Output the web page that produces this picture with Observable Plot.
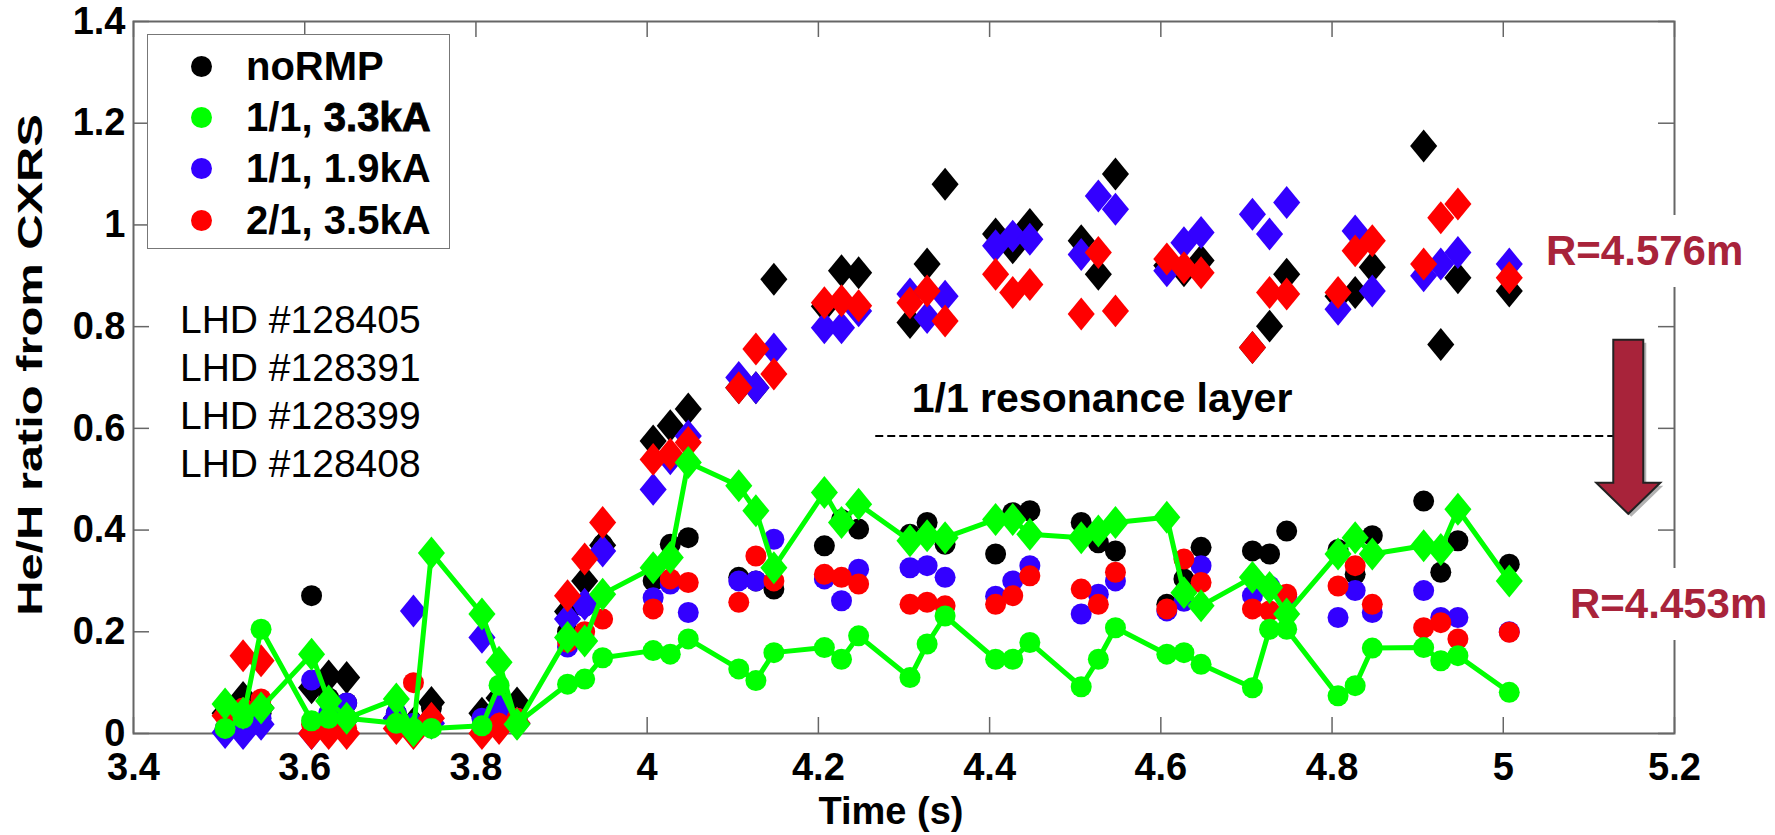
<!DOCTYPE html>
<html>
<head>
<meta charset="utf-8">
<script src="https://cdn.jsdelivr.net/npm/d3@7"></script>
<script src="https://cdn.jsdelivr.net/npm/@observablehq/plot@0.6"></script>
<style>
  html, body { margin: 0; padding: 0; background: #fff; }
  #wrap { position: relative; width: 1775px; height: 835px; font-family: "Liberation Sans", Arial, sans-serif; overflow: hidden; }
  #wrap svg { position: absolute; left: 0; top: 0; }
  .legend { position: absolute; left: 147px; top: 34px; width: 303px; height: 215px; border: 1.5px solid #777; background: #fff; box-sizing: border-box; }
  .legend .mk { position: absolute; left: 43px; width: 21px; height: 21px; border-radius: 50%; }
  .legend .tx { position: absolute; left: 98px; height: 44px; line-height: 44px; font-weight: bold; font-size: 40px; color: #000; white-space: nowrap; }
  .shot { position: absolute; left: 180px; font-size: 39px; line-height: 44px; height: 44px; color: #000; white-space: nowrap; }
  .rlab { position: absolute; background: #fff; color: #a8233a; font-weight: bold; font-size: 42px; line-height: 72px; height: 72px; padding: 0 8px 0 14px; white-space: nowrap; }
  .ytitle { position: absolute; font-weight: bold; font-size: 35px; line-height: 40px; height: 40px; white-space: nowrap; color: #000; transform-origin: 50% 50%; }
</style>
</head>
<body>
<div id="wrap"></div>
<script>
// ---------------- data ----------------
const time = [
  3.507,3.528,3.549, 3.608,3.628,3.649, 3.707,3.727,3.748, 3.807,3.827,3.848,
  3.907,3.927,3.948, 4.007,4.027,4.048, 4.107,4.127,4.148, 4.207,4.227,4.247,
  4.307,4.327,4.348, 4.407,4.427,4.447, 4.507,4.527,4.547, 4.607,4.627,4.647,
  4.707,4.727,4.747, 4.807,4.827,4.847, 4.907,4.927,4.947, 5.007
];

// circles: R = 4.453 m ; diamonds: R = 4.576 m
const noRMP_R4453 = [
  0.04,0.05,0.04, 0.271,0.07,0.06, 0.04,0.02,0.05, 0.035,0.04,0.05,
  0.20,0.25,0.372, 0.300,0.372,0.385, 0.307,0.30,0.284, 0.369,0.421,0.402,
  0.392,0.415,0.372, 0.353,0.434,0.438, 0.415,0.375,0.359, 0.254,0.304,0.366,
  0.359,0.353,0.398, 0.362,0.313,0.389, 0.457,0.317,0.379, 0.333
];
const noRMP_R4576 = [
  0.04,0.071,0.05, 0.09,0.113,0.110, 0.03,0.02,0.061, 0.04,0.07,0.06,
  0.24,0.300,0.37, 0.575,0.605,0.638, 0.68,0.68,0.893, 0.84,0.910,0.906,
  0.808,0.923,1.080, 0.982,0.955,1.001, 0.969,0.903,1.100, 0.92,0.91,0.93,
  0.759,0.801,0.903, 0.86,0.867,0.917, 1.155,0.765,0.896, 0.870
];
const rmp11_33_R4453 = [
  0.01,0.03,0.205, 0.025,0.03,0.03, 0.02,0.01,0.01, 0.015,0.095,0.02,
  0.097,0.107,0.149, 0.163,0.156,0.186, 0.127,0.104,0.159, 0.169,0.146,0.192,
  0.110,0.176,0.231, 0.146,0.146,0.179, 0.092,0.146,0.208, 0.156,0.159,0.136,
  0.090,0.205,0.205, 0.074,0.094,0.168, 0.169,0.143,0.153, 0.081
];
const rmp11_33_R4576 = [
  0.058,0.04,0.05, 0.156,0.064,0.03, 0.068,0.005,0.355, 0.235,0.14,0.018,
  0.189,0.182,0.274, 0.326,0.346,0.533, 0.487,0.438,0.326, 0.474,0.415,0.451,
  0.379,0.389,0.385, 0.421,0.421,0.392, 0.385,0.398,0.415, 0.425,0.277,0.251,
  0.307,0.287,0.235, 0.353,0.385,0.353, 0.369,0.362,0.441, 0.300
];
const rmp11_19_R4453 = [
  0.01,0.02,0.03, 0.105,0.04,0.06, 0.04,0.02,0.03, 0.03,0.04,0.03,
  0.17,0.25,0.36, 0.267,0.294,0.238, 0.300,0.300,0.382, 0.304,0.261,0.323,
  0.326,0.330,0.307, 0.27,0.300,0.330, 0.235,0.274,0.300, 0.241,0.26,0.330,
  0.271,0.29,0.27, 0.228,0.281,0.238, 0.281,0.228,0.228, 0.20
];
const rmp11_19_R4576 = [
  0.002,0.0,0.018, 0.0,0.02,0.03, 0.03,0.241,0.02, 0.189,0.05,0.02,
  0.225,0.254,0.359, 0.480,0.54,0.585, 0.700,0.680,0.756, 0.798,0.798,0.831,
  0.864,0.818,0.860, 0.959,0.978,0.972, 0.942,1.057,1.031, 0.910,0.965,0.985,
  1.021,0.982,1.044, 0.834,0.988,0.870, 0.900,0.923,0.946, 0.923
];
const rmp21_35_R4453 = [
  0.035,0.05,0.068, 0.018,0.012,0.01, 0.02,0.100,0.03, 0.01,0.02,0.03,
  0.18,0.20,0.225, 0.245,0.304,0.297, 0.258,0.349,0.30, 0.313,0.307,0.294,
  0.254,0.258,0.251, 0.254,0.271,0.310, 0.284,0.254,0.317, 0.245,0.343,0.297,
  0.245,0.241,0.274, 0.290,0.330,0.254, 0.208,0.218,0.186, 0.199
];
const rmp21_35_R4576 = [
  0.035,0.153,0.143, 0.0,0.0,0.0, 0.01,0.0,0.03, 0.0,0.01,0.02,
  0.271,0.343,0.415, 0.539,0.549,0.572, 0.680,0.756,0.707, 0.847,0.851,0.841,
  0.847,0.870,0.811, 0.903,0.867,0.883, 0.825,0.946,0.831, 0.933,0.916,0.906,
  0.759,0.867,0.864, 0.867,0.949,0.969, 0.923,1.014,1.041, 0.896
];

const seriesNames  = ["noRMP", "1/1, 3.3kA", "1/1, 1.9kA", "2/1, 3.5kA"];
const seriesColors = ["#000000", "#00ff00", "#3300ff", "#ff0000"];
const shotLabels   = ["LHD #128405", "LHD #128391", "LHD #128399", "LHD #128408"];
const xTicks = [3.4, 3.6, 3.8, 4.0, 4.2, 4.4, 4.6, 4.8, 5.0, 5.2];
const yTicks = [0, 0.2, 0.4, 0.6, 0.8, 1.0, 1.2, 1.4];
const xTitle = "Time (s)";
const yTitle = "He/H ratio from CXRS";
const layerLabel = "1/1 resonance layer";
const layerLevel = [{y: 0.585, x1: 4.267, x2: 5.135}];
const layerText  = [{x: 4.309, y: 0.658, text: layerLabel}];
const arrowPos   = [{x: 5.146, y: 0.603}];
const rLabels    = ["R=4.576m", "R=4.453m"];

// ------------- tables -------------
const toRows = (vals) => vals.map((v, i) => ({t: time[i], v}));
const circles = {
  "noRMP": toRows(noRMP_R4453),
  "1/1, 3.3kA": toRows(rmp11_33_R4453),
  "1/1, 1.9kA": toRows(rmp11_19_R4453),
  "2/1, 3.5kA": toRows(rmp21_35_R4453)
};
const diamonds = {
  "noRMP": toRows(noRMP_R4576),
  "1/1, 3.3kA": toRows(rmp11_33_R4576),
  "1/1, 1.9kA": toRows(rmp11_19_R4576),
  "2/1, 3.5kA": toRows(rmp21_35_R4576)
};
const colorOf = Object.fromEntries(seriesNames.map((s, i) => [s, seriesColors[i]]));

// custom symbols
const diamondSym = {
  draw(ctx, size) {
    const r = Math.sqrt(size / Math.PI);
    const w = r * 1.29, h = r * 1.57;
    ctx.moveTo(0, -h); ctx.lineTo(w, 0); ctx.lineTo(0, h); ctx.lineTo(-w, 0); ctx.closePath();
  }
};
const arrowSym = {
  draw(ctx) {
    ctx.moveTo(-15, -87); ctx.lineTo(15, -87); ctx.lineTo(15, 56); ctx.lineTo(32, 56);
    ctx.lineTo(0, 87); ctx.lineTo(-32, 56); ctx.lineTo(-15, 56); ctx.closePath();
  }
};

const W = 1775, H = 835, mL = 133, mR = 101, mT = 21, mB = 102;
const innerW = W - mL - mR, innerH = H - mT - mB;
const fmt = d => String(+d.toFixed(1));
const axisColor = "#666";
const R = 10.5;

const drawOrder = ["noRMP", "1/1, 1.9kA", "2/1, 3.5kA"];
const pointMarks = [];
for (const s of drawOrder) {
  pointMarks.push(Plot.dot(circles[s], {x: "t", y: "v", r: R, fill: colorOf[s], stroke: null}));
  pointMarks.push(Plot.dot(diamonds[s], {x: "t", y: "v", r: R, symbol: diamondSym, fill: colorOf[s], stroke: null}));
}
const g = "1/1, 3.3kA";
pointMarks.push(Plot.line(circles[g], {x: "t", y: "v", stroke: colorOf[g], strokeWidth: 5}));
pointMarks.push(Plot.line(diamonds[g], {x: "t", y: "v", stroke: colorOf[g], strokeWidth: 5}));
pointMarks.push(Plot.dot(circles[g], {x: "t", y: "v", r: R, fill: colorOf[g], stroke: null}));
pointMarks.push(Plot.dot(diamonds[g], {x: "t", y: "v", r: R, symbol: diamondSym, fill: colorOf[g], stroke: null}));

const svg = Plot.plot({
  width: W, height: H,
  marginLeft: mL, marginRight: mR, marginTop: mT, marginBottom: mB,
  style: {fontFamily: "'Liberation Sans', Arial, sans-serif", background: "#fff"},
  x: {domain: [3.4, 5.2]},
  y: {domain: [0, 1.4]},
  marks: [
    // inward ticks on all four sides
    Plot.ruleX(xTicks, {stroke: axisColor, strokeWidth: 1.5, insetTop: innerH - 16}),
    Plot.ruleX(xTicks, {stroke: axisColor, strokeWidth: 1.5, insetBottom: innerH - 16}),
    Plot.ruleY(yTicks, {stroke: axisColor, strokeWidth: 1.5, insetRight: innerW - 16}),
    Plot.ruleY(yTicks, {stroke: axisColor, strokeWidth: 1.5, insetLeft: innerW - 16}),
    Plot.frame({stroke: axisColor, strokeWidth: 2}),
    Plot.axisX({ticks: xTicks, tickFormat: fmt, tickSize: 0, tickPadding: 20, fontSize: 38, fontWeight: "bold", fill: "#000", label: null}),
    Plot.axisY({ticks: yTicks, tickFormat: fmt, tickSize: 0, tickPadding: 8, fontSize: 38, fontWeight: "bold", fill: "#000", label: null}),
    Plot.text([xTitle], {text: d => d, frameAnchor: "bottom", dx: -13, dy: 90, fontSize: 38, fontWeight: "bold", fill: "#000"}),
    ...pointMarks,
    // resonance layer annotation
    Plot.ruleY(layerLevel, {y: "y", x1: "x1", x2: "x2", stroke: "#000", strokeWidth: 2, strokeDasharray: "8,4"}),
    Plot.text(layerText, {x: "x", y: "y", text: "text", textAnchor: "start", fontSize: 41, fontWeight: "bold", fill: "#000"}),
    // down arrow (shadow + body)
    Plot.dot(arrowPos, {x: "x", y: "y", symbol: arrowSym, r: 1, fill: "#000", fillOpacity: 0.3, stroke: null, dx: 3, dy: 3}),
    Plot.dot(arrowPos, {x: "x", y: "y", symbol: arrowSym, r: 1, fill: "#a8233a", stroke: "#222", strokeWidth: 2})
  ]
});

const wrap = document.getElementById("wrap");
wrap.appendChild(svg);

// y-axis title (rotated, stretched along its length like the reference)
const yt = document.createElement("div");
yt.className = "ytitle";
yt.textContent = yTitle;
wrap.appendChild(yt);
const natW = yt.offsetWidth;
const targetLen = 502, cx = 30, cy = 365;
yt.style.left = (cx - natW / 2) + "px";
yt.style.top = (cy - 20) + "px";
yt.style.transform = `rotate(-90deg) scaleX(${targetLen / natW})`;

// legend
const legend = document.createElement("div");
legend.className = "legend";
const rowCenters = [31, 82, 133, 185];
seriesNames.forEach((s, i) => {
  const mk = document.createElement("div");
  mk.className = "mk";
  mk.style.top = (rowCenters[i] - 10.5) + "px";
  mk.style.background = seriesColors[i];
  legend.appendChild(mk);
  const tx = document.createElement("div");
  tx.className = "tx";
  tx.style.top = (rowCenters[i] - 22) + "px";
  if (s === "1/1, 3.3kA") {
    tx.innerHTML = '1/1, <span style="-webkit-text-stroke:1px #000">3.3kA</span>';
  } else {
    tx.textContent = s;
  }
  legend.appendChild(tx);
});
wrap.appendChild(legend);

// shot numbers
const shotCenters = [320, 368, 416, 464];
shotLabels.forEach((s, i) => {
  const d = document.createElement("div");
  d.className = "shot";
  d.style.top = (shotCenters[i] - 22) + "px";
  d.textContent = s;
  wrap.appendChild(d);
});

// R labels with white background (cover the right axis)
const rPos = [{left: 1532, center: 251}, {left: 1556, center: 604}];
rLabels.forEach((s, i) => {
  const d = document.createElement("div");
  d.className = "rlab";
  d.style.left = rPos[i].left + "px";
  d.style.top = (rPos[i].center - 36) + "px";
  d.textContent = s;
  wrap.appendChild(d);
});
</script>
</body>
</html>
